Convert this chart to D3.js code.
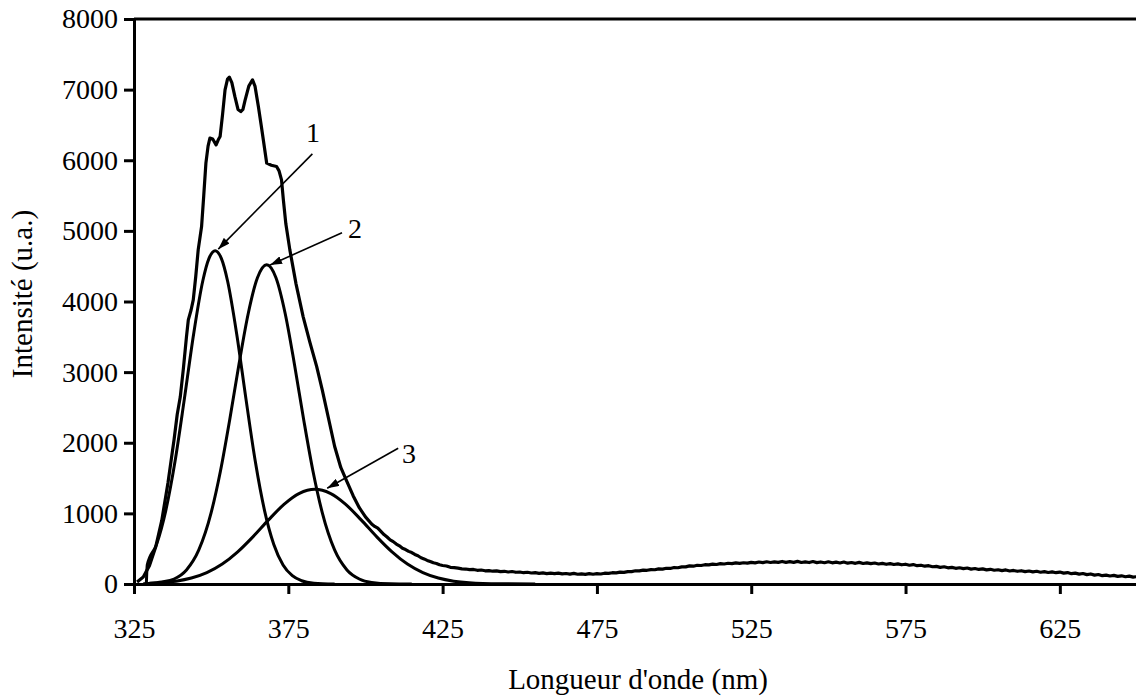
<!DOCTYPE html>
<html>
<head>
<meta charset="utf-8">
<script src="https://cdn.jsdelivr.net/npm/d3@7"></script>
<style>
  body { margin: 0; background: #fff; }
  svg { display: block; }
  svg text { font-family: "Liberation Serif", "Times New Roman", Times, "DejaVu Serif", serif; fill: #000; }
</style>
</head>
<body>
<div id="chart"></div>
<script>
// spectre mesuré (nm, intensité)
const spectre = [
  [326, 30], [328, 100], [330, 260], [332, 520], [334, 900], [336, 1430], [338, 2050],
  [339, 2400], [340, 2650], [341, 3050], [342, 3500], [342.6, 3739], [343.5, 3880],
  [344.2, 4023], [345, 4350], [345.8, 4731], [346.9, 5061], [347.6, 5500], [348.3, 5959],
  [349, 6200], [349.6, 6313], [350.5, 6300], [351.6, 6218], [352.3, 6290], [352.9, 6336],
  [353.7, 6650], [354.5, 6997], [355.3, 7150], [355.9, 7177], [356.7, 7100], [357.7, 6900],
  [358.7, 6720], [359.6, 6690], [360.3, 6720], [361, 6850], [362.2, 7050], [363.4, 7139],
  [364.2, 7050], [365.3, 6761], [366.2, 6500], [366.9, 6289], [368, 5959], [369.5, 5930],
  [371.2, 5911], [372, 5850], [372.8, 5722], [373.4, 5439], [374.2, 5100], [375.5, 4731],
  [377.5, 4250], [379.8, 3787], [382, 3420], [384.2, 3078], [386, 2750], [388, 2350],
  [390, 1950], [392, 1650], [394, 1450], [396, 1250], [398, 1080], [400, 950], [402, 850],
  [403, 815], [404, 790], [405, 745], [406, 700], [407, 665], [408, 625], [409, 600],
  [410, 565], [411, 540], [412, 505], [413, 488], [414, 462], [415, 445], [416, 418],
  [417, 400], [418, 372], [419, 355], [420, 334], [421, 318], [422, 300], [423, 290],
  [424, 272], [425, 262], [426.25, 255], [427.5, 236], [428.75, 232], [430, 224],
  [431.25, 214], [432.5, 212], [433.75, 203], [435, 206], [436.25, 194], [437.5, 198],
  [438.75, 187], [440, 190], [441.25, 181], [442.5, 186], [443.75, 176], [445, 180],
  [446.25, 170], [447.5, 177], [448.75, 166], [450, 170], [451.25, 160], [452.5, 166],
  [453.75, 156], [455, 160], [456.25, 151], [457.5, 157], [458.75, 147], [460, 153],
  [461.25, 146], [462.5, 154], [463.75, 143], [465, 149], [466.25, 140], [467.5, 150],
  [468.75, 138], [470, 144], [471.25, 137], [472.5, 147], [473.75, 138], [475, 146],
  [476.25, 142], [477.5, 153], [478.75, 150], [480, 160], [481.25, 158], [482.5, 168],
  [483.75, 164], [485, 175], [486.25, 176], [487.5, 187], [488.75, 186], [490, 197],
  [491.25, 194], [492.5, 204], [493.75, 202], [495, 214], [496.25, 210], [497.5, 223],
  [498.75, 220], [500, 234], [501.25, 230], [502.5, 243], [503.75, 242], [505, 256],
  [506.25, 252], [507.5, 265], [508.75, 262], [510, 273], [511.25, 270], [512.5, 281],
  [513.75, 276], [515, 288], [516.25, 283], [517.5, 294], [518.75, 288], [520, 300],
  [521.25, 292], [522.5, 301], [523.75, 295], [525, 307], [526.25, 300], [527.5, 311],
  [528.75, 303], [530, 315], [531.25, 305], [532.5, 314], [533.75, 306], [535, 319],
  [536.25, 307], [537.5, 316], [538.75, 306], [540, 320], [541.25, 305], [542.5, 314],
  [543.75, 304], [545, 318], [546.25, 303], [547.5, 312], [548.75, 301], [550, 315],
  [551.25, 300], [552.5, 309], [553.75, 298], [555, 311], [556.25, 295], [557.5, 304],
  [558.75, 293], [560, 306], [561.25, 290], [562.5, 300], [563.75, 288], [565, 297],
  [566.25, 283], [567.5, 292], [568.75, 279], [570, 289], [571.25, 276], [572.5, 285],
  [573.75, 272], [575, 280], [576.25, 266], [577.5, 275], [578.75, 259], [580, 266],
  [581.25, 252], [582.5, 259], [583.75, 244], [585, 249], [586.25, 236], [587.5, 244],
  [588.75, 229], [590, 236], [591.25, 222], [592.5, 230], [593.75, 217], [595, 226],
  [596.25, 211], [597.5, 219], [598.75, 206], [600, 214], [601.25, 200], [602.5, 208],
  [603.75, 195], [605, 202], [606.25, 190], [607.5, 199], [608.75, 184], [610, 192],
  [611.25, 180], [612.5, 188], [613.75, 175], [615, 184], [616.25, 171], [617.5, 180],
  [618.75, 167], [620, 176], [621.25, 163], [622.5, 172], [623.75, 160], [625, 169],
  [626.25, 154], [627.5, 162], [628.75, 146], [630, 154], [631.25, 140], [632.5, 149],
  [633.75, 133], [635, 142], [636.25, 126], [637.5, 134], [638.75, 118], [640, 126],
  [641.25, 113], [642.5, 122], [643.75, 108], [645, 116], [646.25, 103], [647.5, 112],
  [648.75, 98], [650, 104]
];

// bandes décomposées
const bande1 = [
  [329, 0], [329.3, 270], [332.3, 560], [335.3, 1040], [338.3, 1737], [341.3, 2614],
  [344.3, 3534], [347.3, 4294], [349.3, 4610], [351.3, 4720], [353.3, 4610], [355.3, 4294],
  [358.3, 3534], [361.3, 2614], [364.3, 1737], [367.3, 1040], [370.3, 560], [373.3, 270],
  [376.3, 118], [379.3, 46], [383.3, 11], [390, 0]
];
const bande2 = [
  [330, 10], [334, 30], [338, 71], [342, 199], [346, 482], [350, 1011], [353, 1597],
  [356, 2323], [359, 3108], [362, 3827], [365, 4336], [368, 4520], [371, 4336], [374, 3827],
  [377, 3108], [380, 2323], [383, 1597], [386, 1011], [390, 482], [394, 199], [398, 71],
  [402, 22], [408, 3], [415, 0]
];
const bande3 = [
  [328, 5], [333.6, 18], [338.6, 40], [343.6, 84], [348.6, 161], [353.6, 282], [358.6, 455],
  [363.6, 671], [368.6, 908], [373.6, 1127], [378.6, 1283], [383.6, 1340], [388.6, 1283],
  [393.6, 1127], [398.6, 908], [403.6, 671], [408.6, 455], [413.6, 282], [418.6, 161],
  [423.6, 84], [428.6, 40], [433.6, 18], [443.6, 3], [455, 0]
];

const ticksX = [325, 375, 425, 475, 525, 575, 625];
const ticksY = [0, 1000, 2000, 3000, 4000, 5000, 6000, 7000, 8000];

// étiquettes des bandes : texte, départ de la flèche, pointe de la flèche
const annotations = [
  { label: "1", text: [383.0, 6261], tail: [382.8, 6091], tip: [352.3, 4741] },
  { label: "2", text: [396.6, 4901], tail: [392.4, 4972], tip: [369.1, 4518] },
  { label: "3", text: [414.1, 1714], tail: [410.6, 1922], tip: [387.6, 1356] }
];

const W = 1136, H = 696;
const margin = { top: 19, right: 0, bottom: 112, left: 134 };
const width = 1003;
const height = H - margin.top - margin.bottom;

const svg = d3.select("#chart").append("svg")
  .attr("width", W)
  .attr("height", H);

const g = svg.append("g")
  .attr("transform", "translate(" + margin.left + "," + margin.top + ")");

const x = d3.scaleLinear().domain([325, 650]).range([0, width]);
const y = d3.scaleLinear().domain([0, 8000]).range([height, 0]);

// cadre du haut
g.append("line")
  .attr("x1", 0).attr("x2", width)
  .attr("y1", 0).attr("y2", 0)
  .attr("stroke", "#000").attr("stroke-width", 3);

const xAxis = d3.axisBottom(x).tickValues(ticksX).tickSize(10).tickSizeOuter(0).tickPadding(24)
  .tickFormat(d3.format("d"));
const yAxis = d3.axisLeft(y).tickValues(ticksY).tickSize(10).tickSizeOuter(0).tickPadding(6)
  .tickFormat(d3.format("d"));

const gx = g.append("g").attr("transform", "translate(0," + height + ")").call(xAxis);
const gy = g.append("g").call(yAxis);

[gx, gy].forEach(a => {
  a.attr("font-family", null).attr("font-size", 28);
  a.select(".domain").attr("stroke-width", 3);
  a.selectAll(".tick line").attr("stroke-width", 3);
});

const line = d3.line()
  .x(d => x(d[0]))
  .y(d => y(d[1]));

const smooth = d3.line()
  .curve(d3.curveMonotoneX)
  .x(d => x(d[0]))
  .y(d => y(d[1]));

[bande1, bande2, bande3].forEach(b => {
  g.append("path")
    .datum(b)
    .attr("fill", "none")
    .attr("stroke", "#000")
    .attr("stroke-width", 3)
    .attr("stroke-linejoin", "round")
    .attr("d", smooth);
});

g.append("path")
  .datum(spectre)
  .attr("fill", "none")
  .attr("stroke", "#000")
  .attr("stroke-width", 3.2)
  .attr("stroke-linejoin", "round")
  .attr("d", line);

// flèches
svg.append("defs").append("marker")
  .attr("id", "fleche")
  .attr("viewBox", "0 0 12 8")
  .attr("refX", 12).attr("refY", 4)
  .attr("markerWidth", 12).attr("markerHeight", 8)
  .attr("markerUnits", "userSpaceOnUse")
  .attr("orient", "auto")
  .append("path")
  .attr("d", "M0,0 L12,4 L0,8 Z")
  .attr("fill", "#000");

annotations.forEach(a => {
  g.append("line")
    .attr("x1", x(a.tail[0])).attr("y1", y(a.tail[1]))
    .attr("x2", x(a.tip[0])).attr("y2", y(a.tip[1]))
    .attr("stroke", "#000")
    .attr("stroke-width", 1.6)
    .attr("marker-end", "url(#fleche)");
  g.append("text")
    .attr("x", x(a.text[0])).attr("y", y(a.text[1]))
    .attr("text-anchor", "middle")
    .attr("font-size", 28)
    .text(a.label);
});

// titres des axes
svg.append("text")
  .attr("x", 638).attr("y", 689)
  .attr("text-anchor", "middle")
  .attr("font-size", 29)
  .text("Longueur d'onde (nm)");

svg.append("text")
  .attr("transform", "translate(32,294) rotate(-90)")
  .attr("text-anchor", "middle")
  .attr("font-size", 29)
  .text("Intensité (u.a.)");
</script>
</body>
</html>
